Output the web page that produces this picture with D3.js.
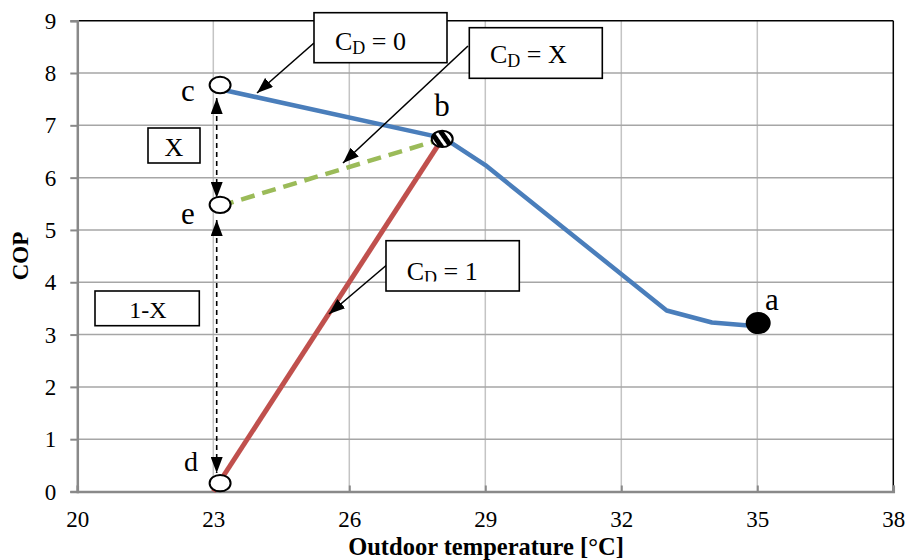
<!DOCTYPE html>
<html>
<head>
<meta charset="utf-8">
<script src="https://cdn.jsdelivr.net/npm/d3@7/dist/d3.min.js"></script>
<style>
  html, body { margin: 0; padding: 0; background: #fff; }
  svg { display: block; font-family: "Liberation Serif", "Times New Roman", serif; }
</style>
</head>
<body>
<svg id="chart" width="907" height="560"></svg>
<script>
// Axis ticks
const xTicks = [20, 23, 26, 29, 32, 35, 38];
const yTicks = [0, 1, 2, 3, 4, 5, 6, 7, 8, 9];

// Part-load COP curve, C_D = 0 (points c -> b -> a)
const curveTemp = [23.15, 28.1, 29, 33, 34, 35];
const curveCop  = [7.69, 6.75, 6.24, 3.46, 3.23, 3.16];

// Cycling line, C_D = 1 (from d to b)
const cd1Temp = [23.0, 28.05];
const cd1Cop  = [0.0, 6.74];

// Cycling line, C_D = X (from e to b)
const cdxTemp = [23.15, 28.05];
const cdxCop  = [5.46, 6.74];

// Labelled state points
const pointNames = ["c", "e", "d", "b", "a"];
const pointTemp  = [23.15, 23.15, 23.15, 28.05, 35.02];
const pointCop   = [7.77, 5.48, 0.16, 6.74, 3.22];
const pointStyle = ["open", "open", "open", "striped", "filled"];

const svg = d3.select("#chart");
const x = d3.scaleLinear().domain([20, 38]).range([77.3, 893.3]);
const y = d3.scaleLinear().domain([0, 9]).range([491.5, 20.7]);

const defs = svg.append("defs");
defs.append("pattern")
  .attr("id", "stripes").attr("patternUnits", "userSpaceOnUse")
  .attr("width", 8).attr("height", 8)
  .attr("patternTransform", "rotate(-35)")
  .call(p => {
    p.append("rect").attr("width", 8).attr("height", 8).attr("fill", "#000");
    p.append("rect").attr("width", 3).attr("height", 8).attr("fill", "#fff");
  });
defs.append("marker")
  .attr("id", "head").attr("markerUnits", "userSpaceOnUse")
  .attr("viewBox", "0 0 16 12").attr("refX", 16).attr("refY", 6)
  .attr("markerWidth", 16).attr("markerHeight", 12).attr("orient", "auto-start-reverse")
  .append("path").attr("d", "M0,0 L16,6 L0,12 Z").attr("fill", "#000");

// Gridlines
svg.append("g").selectAll("line").data(xTicks.slice(1, -1)).join("line")
  .attr("x1", d => x(d)).attr("x2", d => x(d))
  .attr("y1", y(9)).attr("y2", y(0))
  .attr("stroke", "#c4c4c4").attr("stroke-width", 1.5);
svg.append("g").selectAll("line").data(yTicks.slice(1, -1)).join("line")
  .attr("x1", x(20)).attr("x2", x(38))
  .attr("y1", d => y(d)).attr("y2", d => y(d))
  .attr("stroke", "#a6a6a6").attr("stroke-width", 1.5);

// Frame: top and right in black
svg.append("line").attr("x1", x(20)).attr("x2", x(38)).attr("y1", y(9)).attr("y2", y(9))
  .attr("stroke", "#000").attr("stroke-width", 1.5);
svg.append("line").attr("x1", x(38)).attr("x2", x(38)).attr("y1", y(9)).attr("y2", y(0))
  .attr("stroke", "#000").attr("stroke-width", 1.5);

// Axes
const yAxis = svg.append("g").attr("transform", `translate(${x(20)},0)`)
  .call(d3.axisLeft(y).tickValues(yTicks).tickSize(7).tickPadding(14).tickFormat(d3.format("d")));
const xAxis = svg.append("g").attr("transform", `translate(0,${y(0)})`)
  .call(d3.axisBottom(x).tickValues(xTicks).tickSize(-6).tickPadding(19.5).tickFormat(d3.format("d")));
[yAxis, xAxis].forEach(g => {
  g.attr("font-family", null).attr("font-size", null);
  g.select(".domain").attr("stroke", "#898989").attr("stroke-width", 2.5);
  g.selectAll(".tick line").attr("stroke", "#898989").attr("stroke-width", 2);
  g.selectAll(".tick text").attr("fill", "#000").attr("font-size", 23);
});
yAxis.selectAll(".tick text").attr("dy", "0.33em");
xAxis.selectAll(".tick text").attr("dy", "0.71em");

// Axis titles
svg.append("text").attr("x", 486).attr("y", 554.5).attr("text-anchor", "middle")
  .attr("font-size", 24.5).attr("font-weight", "bold").text("Outdoor temperature [°C]");
svg.append("text").attr("transform", "translate(28,256) rotate(-90)").attr("text-anchor", "middle")
  .attr("font-size", 23).attr("font-weight", "bold").text("COP");

// Series lines
const line = d3.line().x(d => x(d[0])).y(d => y(d[1]));
svg.append("path").datum(d3.zip(cd1Temp, cd1Cop)).attr("d", line)
  .attr("fill", "none").attr("stroke", "#c0504d").attr("stroke-width", 5);
svg.append("path").datum(d3.zip(cdxTemp, cdxCop)).attr("d", line)
  .attr("fill", "none").attr("stroke", "#9bbb59").attr("stroke-width", 4.5)
  .attr("stroke-dasharray", "14 8");
svg.append("path").datum(d3.zip(curveTemp, curveCop)).attr("d", line)
  .attr("fill", "none").attr("stroke", "#4a7ebb").attr("stroke-width", 4.5)
  .attr("stroke-linejoin", "round");

// Dashed double arrows between c, e and d
const arrowX = 216.7;
[[98, 198], [220, 473]].forEach(([a, b]) => {
  svg.append("line").attr("x1", arrowX).attr("x2", arrowX).attr("y1", a).attr("y2", b)
    .attr("stroke", "#000").attr("stroke-width", 1.6).attr("stroke-dasharray", "5 4")
    .attr("marker-start", "url(#head)").attr("marker-end", "url(#head)");
});

// State point markers
const pts = d3.range(pointNames.length).map(i => ({
  name: pointNames[i], t: pointTemp[i], c: pointCop[i], s: pointStyle[i]
}));
svg.append("g").selectAll("ellipse").data(pts).join("ellipse")
  .attr("cx", d => x(d.t)).attr("cy", d => y(d.c))
  .attr("rx", d => d.s === "filled" ? 11.5 : 10.5)
  .attr("ry", d => d.s === "filled" ? 10 : 8.2)
  .attr("fill", d => d.s === "filled" ? "#000" : d.s === "striped" ? "url(#stripes)" : "#fff")
  .attr("stroke", "#000").attr("stroke-width", 2);

// Point letters
const letterPos = { c: [188, 101, 31], e: [188, 224, 31], d: [191, 471, 28], b: [442, 116, 31], a: [772, 310, 31] };
svg.append("g").selectAll("text").data(pts).join("text")
  .attr("x", d => letterPos[d.name][0]).attr("y", d => letterPos[d.name][1])
  .attr("text-anchor", "middle").attr("font-size", d => letterPos[d.name][2])
  .text(d => d.name);

// Callout arrows
[[314, 43, 257, 93], [468, 46, 343, 163], [386.7, 265, 329, 314]].forEach(([x1, y1, x2, y2]) => {
  svg.append("line").attr("x1", x1).attr("y1", y1).attr("x2", x2).attr("y2", y2)
    .attr("stroke", "#000").attr("stroke-width", 1.6).attr("marker-end", "url(#head)");
});

// Callout boxes
function box(x0, y0, w, h) {
  svg.append("rect").attr("x", x0).attr("y", y0).attr("width", w).attr("height", h)
    .attr("fill", "#fff").attr("stroke", "#000").attr("stroke-width", 1.6);
}
function cdLabel(tx, ty, value, clipBottom) {
  const t = svg.append("text").attr("x", tx).attr("y", ty).attr("font-size", 26);
  if (clipBottom) {
    const id = "clip" + value;
    defs.append("clipPath").attr("id", id).append("rect")
      .attr("x", tx - 5).attr("y", ty - 40).attr("width", 140).attr("height", clipBottom - (ty - 40));
    t.attr("clip-path", `url(#${id})`);
  }
  t.append("tspan").text("C");
  t.append("tspan").attr("font-size", 18).attr("dy", 4).text("D");
  t.append("tspan").attr("dy", -4).text(" = " + value);
}
box(314, 12.7, 133, 50);
cdLabel(335, 50, "0");
box(469.3, 27.7, 133, 50.6);
cdLabel(490, 63.3, "X");
box(386, 240.7, 133.3, 50.3);
cdLabel(406.7, 280, "1", 281.5);

box(148, 128, 52, 35);
svg.append("text").attr("x", 174).attr("y", 156).attr("text-anchor", "middle")
  .attr("font-size", 26).text("X");
box(95, 291, 104.3, 34.7);
svg.append("text").attr("x", 148).attr("y", 318).attr("text-anchor", "middle")
  .attr("font-size", 24).text("1-X");
</script>
</body>
</html>
